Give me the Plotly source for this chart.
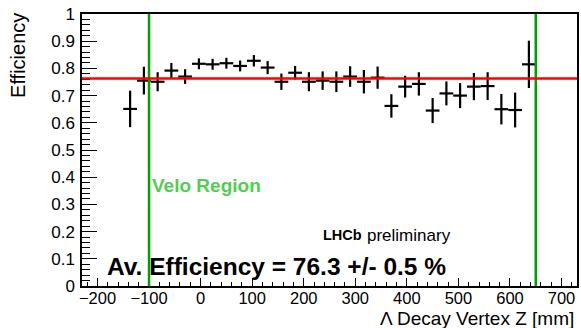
import plotly.graph_objects as go

# Data
z_centers = [-136.7, -110.0, -83.3, -56.7, -30.0, -3.3, 23.3, 50.0, 76.7, 103.3,
             130.0, 156.7, 183.3, 210.0, 236.7, 263.3, 290.0, 316.7, 343.3, 370.0,
             396.7, 423.3, 450.0, 476.7, 503.3, 530.0, 556.7, 583.3, 610.0, 636.7]
efficiency = [0.651, 0.755, 0.751, 0.792, 0.770, 0.817, 0.815, 0.819, 0.809, 0.828,
              0.803, 0.751, 0.784, 0.751, 0.755, 0.751, 0.770, 0.751, 0.766, 0.662,
              0.733, 0.743, 0.645, 0.708, 0.700, 0.733, 0.735, 0.650, 0.647, 0.815]
eff_err = [0.067, 0.051, 0.035, 0.028, 0.027, 0.020, 0.020, 0.020, 0.020, 0.021,
           0.024, 0.030, 0.025, 0.035, 0.034, 0.038, 0.038, 0.043, 0.041, 0.043,
           0.040, 0.043, 0.046, 0.044, 0.046, 0.050, 0.051, 0.056, 0.064, 0.087]
bin_half_width = 13.33
velo_limits = [-100, 650]
av_efficiency = 0.763
x_tick_vals = [-200, -100, 0, 100, 200, 300, 400, 500, 600, 700]
y_tick_vals = [0, 0.1, 0.2, 0.3, 0.4, 0.5, 0.6, 0.7, 0.8, 0.9, 1]
y_tick_text = ["0", "0.1", "0.2", "0.3", "0.4", "0.5", "0.6", "0.7", "0.8", "0.9", "1"]

FONT = "Liberation Sans, Arial, Helvetica, sans-serif"

fig = go.Figure()
fig.add_trace(go.Scatter(
    x=z_centers, y=efficiency, mode="markers",
    marker=dict(size=0.1, color="black"),
    error_y=dict(type="data", array=eff_err, width=0, thickness=2.2, color="black"),
    error_x=dict(type="constant", value=bin_half_width, width=0, thickness=2.2, color="black"),
    showlegend=False, hoverinfo="x+y",
))

shapes = []
for v in velo_limits:
    shapes.append(dict(type="line", xref="x", yref="paper", x0=v, x1=v, y0=0, y1=1,
                       line=dict(color="#00a000", width=2.5), layer="above"))
shapes.append(dict(type="line", xref="paper", yref="y", x0=0, x1=1,
                   y0=av_efficiency, y1=av_efficiency,
                   line=dict(color="#ff0000", width=2.5), layer="above"))

annotations = [
    dict(text="Efficiency", xref="paper", yref="paper", x=-0.129, y=1.01,
         xanchor="center", yanchor="top", textangle=-90, showarrow=False,
         font=dict(family=FONT, size=20, color="black")),
    dict(text="Λ Decay Vertex Z [mm]", xref="paper", yref="paper", x=0.998, y=-0.118,
         xanchor="right", yanchor="middle", showarrow=False,
         font=dict(family=FONT, size=19, color="black")),
    dict(text="<b>Velo Region</b>", xref="x", yref="paper", x=velo_limits[0], y=0.371,
         xanchor="left", yanchor="middle", xshift=1, showarrow=False,
         font=dict(family=FONT, size=19, color="#55cc55")),
    dict(text="<b>Av. Efficiency = 76.3 +/- 0.5 %</b>", xref="paper", yref="paper",
         x=0.047, y=0.072, xanchor="left", yanchor="middle", showarrow=False,
         font=dict(family=FONT, size=24.5, color="black")),
    dict(text="<b>LHCb</b>", xref="paper", yref="paper", x=0.482, y=0.186,
         xanchor="left", yanchor="middle", showarrow=False,
         font=dict(family=FONT, size=14.5, color="black")),
    dict(text="preliminary", xref="paper", yref="paper", x=0.571, y=0.186,
         xanchor="left", yanchor="middle", showarrow=False,
         font=dict(family=FONT, size=17, color="black")),
]

fig.update_layout(
    width=581, height=328,
    margin=dict(l=82, r=2, t=14, b=42),
    paper_bgcolor="white", plot_bgcolor="white",
    shapes=shapes, annotations=annotations,
    xaxis=dict(range=[-230, 730], tickvals=x_tick_vals, ticks="inside", ticklen=8,
               tickwidth=1, tickcolor="black", showline=True, linecolor="black",
               linewidth=1.5, mirror=True, showgrid=False, zeroline=False,
               ticklabelstandoff=-4,
               tickfont=dict(family=FONT, size=16.5, color="black"),
               minor=dict(dtick=20, ticks="inside", ticklen=4, tickcolor="black",
                          showgrid=False)),
    yaxis=dict(range=[0, 1], tickvals=y_tick_vals, ticktext=y_tick_text, ticks="inside",
               ticklen=15, tickwidth=1, tickcolor="black", showline=True,
               linecolor="black", linewidth=1.5, mirror=True, showgrid=False,
               zeroline=False, ticklabelstandoff=2,
               tickfont=dict(family=FONT, size=17, color="black"),
               minor=dict(dtick=0.02, ticks="inside", ticklen=8, tickcolor="black",
                          showgrid=False)),
)

fig.write_html("out.html", config={"displayModeBar": False})

# remove the default page margin so the figure sits at the window's top-left corner
with open("out.html", "r", encoding="utf-8") as f:
    html = f.read()
html = html.replace("<head>", "<head><style>html,body{margin:0;padding:0;overflow:hidden;}</style>", 1)
with open("out.html", "w", encoding="utf-8") as f:
    f.write(html)
